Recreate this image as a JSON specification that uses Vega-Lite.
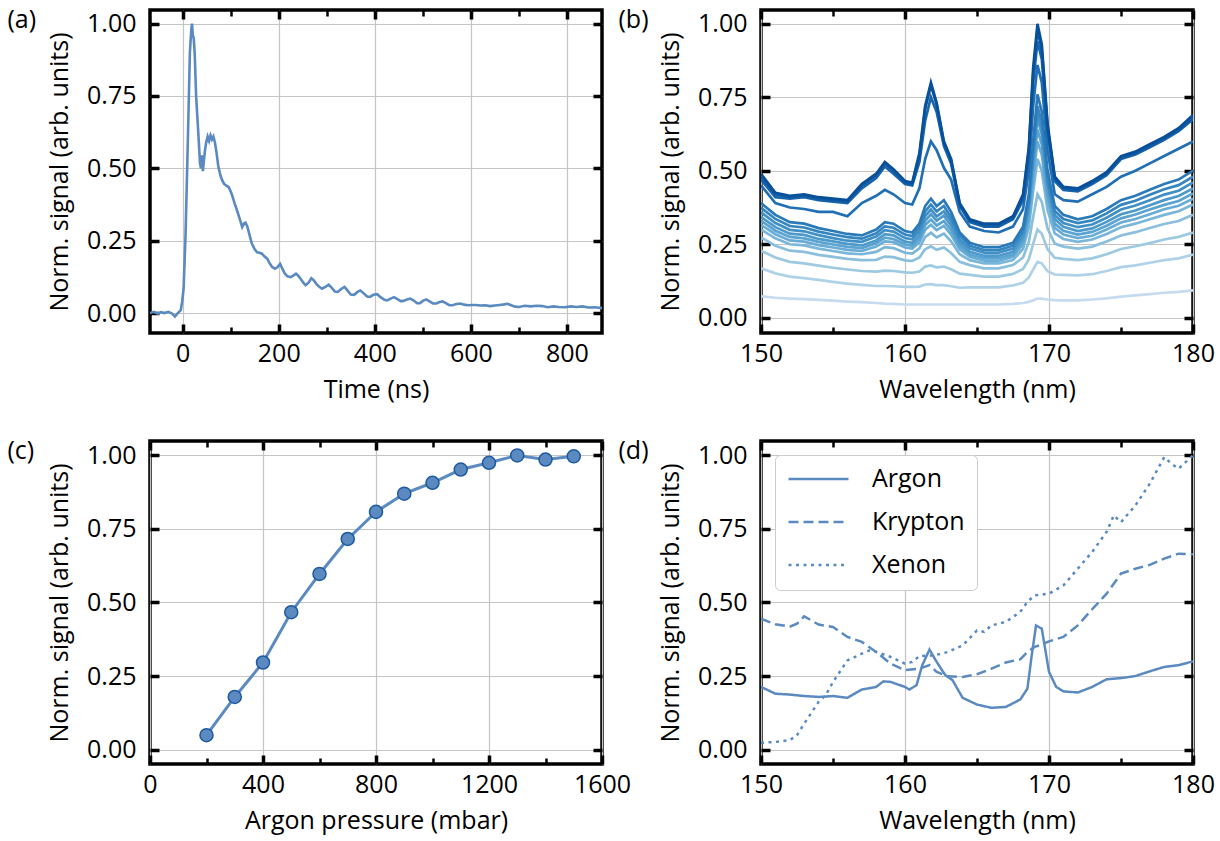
{
"$schema": "https://vega.github.io/schema/vega-lite/v6.json",
"background": "white",
"padding": {"left": 5, "top": 5, "right": 5, "bottom": 5},
"columns": 2,
"spacing": {"row": 108, "column": 159},
"bounds": "flush",
"resolve": {"scale": {"strokeDash": "independent", "color": "independent"}},
"concat": [
{
 "width": 452, "height": 323,
 "data": {"values": [
 {"t":-68,"v":0.0},{"t":-60,"v":0.004},{"t":-52,"v":-0.002},{"t":-45,"v":0.003},{"t":-38,"v":0.0},{"t":-30,"v":0.004},{"t":-22,"v":-0.002},{"t":-16,"v":-0.012},{"t":-12,"v":-0.004},{"t":-8,"v":0.003},{"t":-4,"v":0.01},{"t":-1,"v":0.04},{"t":2,"v":0.085},{"t":6,"v":0.27},{"t":11,"v":0.61},{"t":15,"v":0.9},{"t":18,"v":0.98},{"t":19.5,"v":1.0},{"t":21,"v":0.96},{"t":23,"v":0.95},{"t":25,"v":0.9},{"t":28,"v":0.75},{"t":33,"v":0.61},{"t":36,"v":0.52},{"t":38,"v":0.5},{"t":40,"v":0.545},{"t":42,"v":0.49},{"t":46,"v":0.556},{"t":49,"v":0.59},{"t":52,"v":0.61},{"t":55,"v":0.595},{"t":58,"v":0.614},{"t":61,"v":0.6},{"t":64,"v":0.61},{"t":67,"v":0.59},{"t":70,"v":0.56},{"t":74,"v":0.51},{"t":78.5,"v":0.476},{"t":82,"v":0.46},{"t":86,"v":0.447},{"t":91,"v":0.44},{"t":96,"v":0.435},{"t":100,"v":0.42},{"t":103,"v":0.407},{"t":108,"v":0.38},{"t":113,"v":0.355},{"t":118,"v":0.33},{"t":124,"v":0.297},{"t":128,"v":0.31},{"t":131,"v":0.312},{"t":135,"v":0.297},{"t":140,"v":0.265},{"t":144,"v":0.24},{"t":150,"v":0.22},{"t":155,"v":0.21},{"t":160,"v":0.208},{"t":165,"v":0.205},{"t":170,"v":0.196},{"t":176,"v":0.188},{"t":180,"v":0.175},{"t":186,"v":0.16},{"t":192,"v":0.153},{"t":197,"v":0.158},{"t":203,"v":0.17},{"t":207,"v":0.155},{"t":212,"v":0.138},{"t":218,"v":0.127},{"t":225,"v":0.124},{"t":231,"v":0.13},{"t":236,"v":0.136},{"t":241,"v":0.128},{"t":247,"v":0.115},{"t":252,"v":0.103},{"t":256,"v":0.096},{"t":262,"v":0.105},{"t":268,"v":0.12},{"t":273,"v":0.113},{"t":279,"v":0.099},{"t":285,"v":0.09},{"t":290,"v":0.084},{"t":297,"v":0.09},{"t":304,"v":0.098},{"t":310,"v":0.088},{"t":317,"v":0.074},{"t":323,"v":0.073},{"t":330,"v":0.083},{"t":337,"v":0.09},{"t":343,"v":0.078},{"t":350,"v":0.064},{"t":357,"v":0.063},{"t":364,"v":0.073},{"t":370,"v":0.078},{"t":377,"v":0.068},{"t":384,"v":0.057},{"t":390,"v":0.056},{"t":397,"v":0.063},{"t":405,"v":0.065},{"t":412,"v":0.055},{"t":420,"v":0.046},{"t":426,"v":0.044},{"t":433,"v":0.05},{"t":440,"v":0.055},{"t":447,"v":0.048},{"t":454,"v":0.041},{"t":460,"v":0.042},{"t":467,"v":0.047},{"t":474,"v":0.05},{"t":481,"v":0.043},{"t":488,"v":0.034},{"t":494,"v":0.034},{"t":500,"v":0.042},{"t":507,"v":0.047},{"t":514,"v":0.04},{"t":521,"v":0.033},{"t":528,"v":0.033},{"t":535,"v":0.038},{"t":541,"v":0.04},{"t":548,"v":0.034},{"t":555,"v":0.027},{"t":562,"v":0.027},{"t":570,"v":0.031},{"t":578,"v":0.033},{"t":586,"v":0.029},{"t":594,"v":0.027},{"t":602,"v":0.028},{"t":610,"v":0.028},{"t":620,"v":0.026},{"t":630,"v":0.027},{"t":640,"v":0.024},{"t":650,"v":0.026},{"t":660,"v":0.028},{"t":670,"v":0.03},{"t":676,"v":0.032},{"t":684,"v":0.027},{"t":692,"v":0.022},{"t":700,"v":0.021},{"t":712,"v":0.025},{"t":725,"v":0.023},{"t":737,"v":0.025},{"t":749,"v":0.024},{"t":760,"v":0.02},{"t":772,"v":0.023},{"t":783,"v":0.021},{"t":795,"v":0.02},{"t":808,"v":0.023},{"t":820,"v":0.021},{"t":832,"v":0.023},{"t":845,"v":0.019},{"t":858,"v":0.02},{"t":873,"v":0.017}
 ]},
 "resolve": {"axis": {"x": "independent", "y": "independent"}},
 "layer": [
  {"mark": {"type": "line", "color": "#5a8ac0", "strokeWidth": 2.6, "clip": true},
   "encoding": {
    "x": {"field": "t", "type": "quantitative", "scale": {"domain": [-68, 873], "nice": false, "zero": false},
      "axis": {"orient": "bottom", "values": [0,200,400,600,800], "tickSize": -9, "tickWidth": 3.5, "labelPadding": 17, "grid": true, "labelFlush": false, "labelOverlap": false, "title": "Time (ns)", "titlePadding": 11}},
    "y": {"field": "v", "type": "quantitative", "scale": {"domain": [-0.069, 1.047], "nice": false, "zero": false},
      "axis": {"orient": "left", "values": [0,0.25,0.5,0.75,1], "format": ".2f", "tickSize": -9, "tickWidth": 3.5, "labelPadding": 23, "grid": true, "labelOverlap": false, "title": "Norm. signal (arb. units)", "titlePadding": 14}}
   }},
  {"mark": {"type": "point", "opacity": 0},
   "encoding": {
    "x": {"field": "t", "type": "quantitative", "axis": {"orient": "top", "values": [0,200,400,600,800], "tickSize": -9, "tickWidth": 3.5, "labels": false, "grid": false, "title": "(a)", "titleX": -143, "titleY": -3, "titleAlign": "left", "titleBaseline": "top", "titleAngle": 0}},
    "y": {"field": "v", "type": "quantitative", "axis": {"orient": "right", "values": [0,0.25,0.5,0.75,1], "tickSize": -9, "tickWidth": 3.5, "labels": false, "grid": false, "title": null}}
   }},
  {"mark": {"type": "point", "opacity": 0},
   "encoding": {
    "x": {"field": "t", "type": "quantitative", "axis": {"orient": "bottom", "values": [100,300,500,700], "tickSize": -6, "tickWidth": 2.5, "labels": false, "grid": false, "title": null}},
    "y": {"field": "v", "type": "quantitative", "axis": null}
   }},
  {"mark": {"type": "point", "opacity": 0},
   "encoding": {
    "x": {"field": "t", "type": "quantitative", "axis": {"orient": "top", "values": [100,300,500,700], "tickSize": -6, "tickWidth": 2.5, "labels": false, "grid": false, "title": null}},
    "y": {"field": "v", "type": "quantitative", "axis": null}
   }}
 ]
},
{
 "width": 432, "height": 323,
 "data": {"values": [
 {"w":150,"d1":0.49,"d2":0.48,"d3":0.47,"d4":0.45,"l1":0.39,"l2":0.374,"l3":0.359,"l4":0.343,"l5":0.33,"l6":0.316,"l7":0.3,"l8":0.273,"l9":0.228,"l10":0.168,"l11":0.073},
 {"w":151,"d1":0.425,"d2":0.42,"d3":0.41,"d4":0.39,"l1":0.35,"l2":0.336,"l3":0.322,"l4":0.308,"l5":0.296,"l6":0.284,"l7":0.27,"l8":0.245,"l9":0.205,"l10":0.151,"l11":0.068},
 {"w":152,"d1":0.415,"d2":0.41,"d3":0.405,"d4":0.375,"l1":0.325,"l2":0.312,"l3":0.299,"l4":0.286,"l5":0.275,"l6":0.263,"l7":0.25,"l8":0.228,"l9":0.19,"l10":0.14,"l11":0.065},
 {"w":153,"d1":0.42,"d2":0.415,"d3":0.41,"d4":0.37,"l1":0.32,"l2":0.307,"l3":0.294,"l4":0.282,"l5":0.27,"l6":0.259,"l7":0.246,"l8":0.224,"l9":0.185,"l10":0.135,"l11":0.063},
 {"w":154,"d1":0.41,"d2":0.405,"d3":0.4,"d4":0.36,"l1":0.305,"l2":0.293,"l3":0.281,"l4":0.268,"l5":0.258,"l6":0.247,"l7":0.235,"l8":0.214,"l9":0.177,"l10":0.129,"l11":0.061},
 {"w":155,"d1":0.405,"d2":0.4,"d3":0.395,"d4":0.36,"l1":0.295,"l2":0.283,"l3":0.271,"l4":0.26,"l5":0.249,"l6":0.239,"l7":0.227,"l8":0.207,"l9":0.17,"l10":0.122,"l11":0.058},
 {"w":156,"d1":0.4,"d2":0.395,"d3":0.39,"d4":0.345,"l1":0.285,"l2":0.274,"l3":0.262,"l4":0.251,"l5":0.241,"l6":0.231,"l7":0.219,"l8":0.2,"l9":0.164,"l10":0.116,"l11":0.055},
 {"w":157,"d1":0.455,"d2":0.45,"d3":0.44,"d4":0.39,"l1":0.28,"l2":0.269,"l3":0.258,"l4":0.246,"l5":0.237,"l6":0.227,"l7":0.216,"l8":0.196,"l9":0.159,"l10":0.112,"l11":0.053},
 {"w":158,"d1":0.49,"d2":0.485,"d3":0.475,"d4":0.415,"l1":0.3,"l2":0.287,"l3":0.276,"l4":0.263,"l5":0.253,"l6":0.242,"l7":0.224,"l8":0.197,"l9":0.157,"l10":0.108,"l11":0.05},
 {"w":158.6,"d1":0.53,"d2":0.525,"d3":0.515,"d4":0.435,"l1":0.325,"l2":0.311,"l3":0.298,"l4":0.284,"l5":0.272,"l6":0.26,"l7":0.24,"l8":0.208,"l9":0.16,"l10":0.108,"l11":0.048},
 {"w":159.2,"d1":0.505,"d2":0.5,"d3":0.49,"d4":0.42,"l1":0.32,"l2":0.306,"l3":0.293,"l4":0.28,"l5":0.268,"l6":0.257,"l7":0.237,"l8":0.206,"l9":0.159,"l10":0.107,"l11":0.047},
 {"w":160,"d1":0.465,"d2":0.46,"d3":0.455,"d4":0.39,"l1":0.295,"l2":0.283,"l3":0.271,"l4":0.259,"l5":0.249,"l6":0.239,"l7":0.221,"l8":0.195,"l9":0.154,"l10":0.105,"l11":0.045},
 {"w":160.5,"d1":0.46,"d2":0.455,"d3":0.45,"d4":0.385,"l1":0.29,"l2":0.278,"l3":0.267,"l4":0.255,"l5":0.245,"l6":0.235,"l7":0.218,"l8":0.193,"l9":0.153,"l10":0.105,"l11":0.045},
 {"w":161,"d1":0.56,"d2":0.55,"d3":0.53,"d4":0.44,"l1":0.32,"l2":0.307,"l3":0.293,"l4":0.28,"l5":0.268,"l6":0.256,"l7":0.236,"l8":0.205,"l9":0.157,"l10":0.106,"l11":0.045},
 {"w":161.4,"d1":0.72,"d2":0.71,"d3":0.67,"d4":0.54,"l1":0.38,"l2":0.362,"l3":0.346,"l4":0.33,"l5":0.315,"l6":0.299,"l7":0.275,"l8":0.233,"l9":0.174,"l10":0.113,"l11":0.045},
 {"w":161.8,"d1":0.8,"d2":0.79,"d3":0.75,"d4":0.6,"l1":0.405,"l2":0.385,"l3":0.368,"l4":0.352,"l5":0.334,"l6":0.316,"l7":0.289,"l8":0.243,"l9":0.178,"l10":0.114,"l11":0.045},
 {"w":162.2,"d1":0.73,"d2":0.725,"d3":0.7,"d4":0.57,"l1":0.38,"l2":0.362,"l3":0.345,"l4":0.33,"l5":0.314,"l6":0.298,"l7":0.273,"l8":0.231,"l9":0.171,"l10":0.111,"l11":0.045},
 {"w":162.7,"d1":0.6,"d2":0.595,"d3":0.585,"d4":0.51,"l1":0.4,"l2":0.38,"l3":0.362,"l4":0.347,"l5":0.329,"l6":0.313,"l7":0.286,"l8":0.239,"l9":0.174,"l10":0.111,"l11":0.045},
 {"w":163.2,"d1":0.54,"d2":0.535,"d3":0.525,"d4":0.47,"l1":0.36,"l2":0.342,"l3":0.328,"l4":0.313,"l5":0.298,"l6":0.283,"l7":0.26,"l8":0.22,"l9":0.165,"l10":0.107,"l11":0.045},
 {"w":163.8,"d1":0.39,"d2":0.385,"d3":0.38,"d4":0.36,"l1":0.29,"l2":0.278,"l3":0.265,"l4":0.254,"l5":0.243,"l6":0.233,"l7":0.216,"l8":0.19,"l9":0.15,"l10":0.102,"l11":0.045},
 {"w":164.5,"d1":0.335,"d2":0.33,"d3":0.325,"d4":0.31,"l1":0.255,"l2":0.245,"l3":0.235,"l4":0.224,"l5":0.215,"l6":0.207,"l7":0.196,"l8":0.179,"l9":0.146,"l10":0.103,"l11":0.045},
 {"w":165.5,"d1":0.32,"d2":0.315,"d3":0.31,"d4":0.295,"l1":0.24,"l2":0.23,"l3":0.221,"l4":0.211,"l5":0.203,"l6":0.194,"l7":0.185,"l8":0.168,"l9":0.14,"l10":0.103,"l11":0.045},
 {"w":166.5,"d1":0.32,"d2":0.315,"d3":0.31,"d4":0.29,"l1":0.24,"l2":0.23,"l3":0.221,"l4":0.211,"l5":0.203,"l6":0.194,"l7":0.185,"l8":0.168,"l9":0.14,"l10":0.103,"l11":0.045},
 {"w":167.5,"d1":0.345,"d2":0.34,"d3":0.335,"d4":0.31,"l1":0.255,"l2":0.245,"l3":0.235,"l4":0.224,"l5":0.215,"l6":0.207,"l7":0.196,"l8":0.179,"l9":0.149,"l10":0.11,"l11":0.047},
 {"w":168.2,"d1":0.42,"d2":0.41,"d3":0.4,"d4":0.37,"l1":0.31,"l2":0.297,"l3":0.285,"l4":0.274,"l5":0.262,"l6":0.25,"l7":0.234,"l8":0.205,"l9":0.166,"l10":0.119,"l11":0.05},
 {"w":168.6,"d1":0.58,"d2":0.57,"d3":0.55,"d4":0.5,"l1":0.42,"l2":0.4,"l3":0.387,"l4":0.373,"l5":0.354,"l6":0.335,"l7":0.309,"l8":0.258,"l9":0.199,"l10":0.137,"l11":0.054},
 {"w":168.9,"d1":0.85,"d2":0.83,"d3":0.8,"d4":0.72,"l1":0.6,"l2":0.569,"l3":0.552,"l4":0.535,"l5":0.505,"l6":0.475,"l7":0.431,"l8":0.343,"l9":0.251,"l10":0.164,"l11":0.059},
 {"w":169.2,"d1":1.0,"d2":0.98,"d3":0.94,"d4":0.86,"l1":0.76,"l2":0.72,"l3":0.7,"l4":0.678,"l5":0.64,"l6":0.6,"l7":0.54,"l8":0.42,"l9":0.3,"l10":0.19,"l11":0.065},
 {"w":169.5,"d1":0.93,"d2":0.91,"d3":0.88,"d4":0.8,"l1":0.7,"l2":0.663,"l3":0.644,"l4":0.624,"l5":0.589,"l6":0.554,"l7":0.5,"l8":0.394,"l9":0.286,"l10":0.185,"l11":0.065},
 {"w":169.9,"d1":0.66,"d2":0.65,"d3":0.63,"d4":0.57,"l1":0.5,"l2":0.476,"l3":0.46,"l4":0.444,"l5":0.422,"l6":0.398,"l7":0.366,"l8":0.303,"l9":0.233,"l10":0.158,"l11":0.062},
 {"w":170.4,"d1":0.48,"d2":0.475,"d3":0.465,"d4":0.42,"l1":0.38,"l2":0.363,"l3":0.349,"l4":0.336,"l5":0.32,"l6":0.306,"l7":0.287,"l8":0.252,"l9":0.204,"l10":0.147,"l11":0.06},
 {"w":171,"d1":0.445,"d2":0.44,"d3":0.435,"d4":0.4,"l1":0.35,"l2":0.336,"l3":0.322,"l4":0.309,"l5":0.296,"l6":0.283,"l7":0.268,"l8":0.242,"l9":0.2,"l10":0.146,"l11":0.059},
 {"w":172,"d1":0.44,"d2":0.435,"d3":0.43,"d4":0.395,"l1":0.335,"l2":0.322,"l3":0.308,"l4":0.295,"l5":0.283,"l6":0.271,"l7":0.258,"l8":0.235,"l9":0.196,"l10":0.144,"l11":0.059},
 {"w":173,"d1":0.465,"d2":0.46,"d3":0.455,"d4":0.42,"l1":0.345,"l2":0.331,"l3":0.317,"l4":0.304,"l5":0.292,"l6":0.279,"l7":0.266,"l8":0.242,"l9":0.202,"l10":0.148,"l11":0.062},
 {"w":174,"d1":0.495,"d2":0.49,"d3":0.485,"d4":0.445,"l1":0.37,"l2":0.355,"l3":0.34,"l4":0.326,"l5":0.313,"l6":0.3,"l7":0.285,"l8":0.259,"l9":0.216,"l10":0.159,"l11":0.066},
 {"w":175,"d1":0.55,"d2":0.545,"d3":0.54,"d4":0.48,"l1":0.4,"l2":0.384,"l3":0.368,"l4":0.352,"l5":0.338,"l6":0.324,"l7":0.308,"l8":0.28,"l9":0.234,"l10":0.172,"l11":0.072},
 {"w":176,"d1":0.565,"d2":0.56,"d3":0.555,"d4":0.5,"l1":0.415,"l2":0.398,"l3":0.382,"l4":0.365,"l5":0.351,"l6":0.336,"l7":0.32,"l8":0.291,"l9":0.243,"l10":0.178,"l11":0.076},
 {"w":177,"d1":0.59,"d2":0.585,"d3":0.58,"d4":0.525,"l1":0.435,"l2":0.418,"l3":0.4,"l4":0.383,"l5":0.368,"l6":0.352,"l7":0.335,"l8":0.305,"l9":0.254,"l10":0.187,"l11":0.08},
 {"w":178,"d1":0.615,"d2":0.61,"d3":0.605,"d4":0.55,"l1":0.455,"l2":0.437,"l3":0.419,"l4":0.4,"l5":0.384,"l6":0.369,"l7":0.35,"l8":0.319,"l9":0.266,"l10":0.196,"l11":0.085},
 {"w":179,"d1":0.645,"d2":0.64,"d3":0.635,"d4":0.575,"l1":0.47,"l2":0.451,"l3":0.432,"l4":0.414,"l5":0.397,"l6":0.381,"l7":0.362,"l8":0.329,"l9":0.275,"l10":0.202,"l11":0.088},
 {"w":180,"d1":0.69,"d2":0.68,"d3":0.675,"d4":0.6,"l1":0.5,"l2":0.48,"l3":0.46,"l4":0.44,"l5":0.423,"l6":0.405,"l7":0.385,"l8":0.35,"l9":0.29,"l10":0.215,"l11":0.093}
 ]},
 "transform": [{"fold": ["l11","l10","l9","l8","l7","l6","l5","l4","l3","l2","l1","d4","d3","d2","d1"], "as": ["s", "v"]}],
 "resolve": {"axis": {"x": "independent", "y": "independent"}},
 "layer": [
  {"mark": {"type": "line", "strokeWidth": 2.7, "clip": true},
   "encoding": {
    "x": {"field": "w", "type": "quantitative", "scale": {"domain": [150, 180], "nice": false, "zero": false},
      "axis": {"orient": "bottom", "values": [150,160,170,180], "tickSize": -9, "tickWidth": 3.5, "labelPadding": 17, "grid": true, "labelFlush": false, "labelOverlap": false, "title": "Wavelength (nm)", "titlePadding": 11}},
    "y": {"field": "v", "type": "quantitative", "scale": {"domain": [-0.052, 1.047], "nice": false, "zero": false},
      "axis": {"orient": "left", "values": [0,0.25,0.5,0.75,1], "format": ".2f", "tickSize": -9, "tickWidth": 3.5, "labelPadding": 23, "grid": true, "labelOverlap": false, "title": "Norm. signal (arb. units)", "titlePadding": 14}},
    "color": {"field": "s", "type": "nominal", "legend": null,
      "scale": {"domain": ["l11","l10","l9","l8","l7","l6","l5","l4","l3","l2","l1","d4","d3","d2","d1"],
                "range": ["#c6dbef","#b0d2e8","#9ecae1","#8abfdd","#79b6d9","#69acd5","#5ba3d0","#4d9aca","#4090c5","#3585bf","#2a7aba","#206fb4","#1865ac","#0f5aa3","#08509a"]}}
   }},
  {"mark": {"type": "point", "opacity": 0},
   "encoding": {
    "x": {"field": "w", "type": "quantitative", "axis": {"orient": "top", "values": [150,160,170,180], "tickSize": -9, "tickWidth": 3.5, "labels": false, "grid": false, "title": "(b)", "titleX": -143, "titleY": -3, "titleAlign": "left", "titleBaseline": "top", "titleAngle": 0}},
    "y": {"field": "v", "type": "quantitative", "axis": {"orient": "right", "values": [0,0.25,0.5,0.75,1], "tickSize": -9, "tickWidth": 3.5, "labels": false, "grid": false, "title": null}}
   }},
  {"mark": {"type": "point", "opacity": 0},
   "encoding": {
    "x": {"field": "w", "type": "quantitative", "axis": {"orient": "bottom", "values": [155,165,175], "tickSize": -6, "tickWidth": 2.5, "labels": false, "grid": false, "title": null}},
    "y": {"field": "v", "type": "quantitative", "axis": null}
   }},
  {"mark": {"type": "point", "opacity": 0},
   "encoding": {
    "x": {"field": "w", "type": "quantitative", "axis": {"orient": "top", "values": [155,165,175], "tickSize": -6, "tickWidth": 2.5, "labels": false, "grid": false, "title": null}},
    "y": {"field": "v", "type": "quantitative", "axis": null}
   }}
 ]
},
{
 "width": 452, "height": 323,
 "data": {"values": [
 {"p":200,"v":0.049},{"p":300,"v":0.179},{"p":400,"v":0.296},{"p":500,"v":0.467},{"p":600,"v":0.597},{"p":700,"v":0.716},{"p":800,"v":0.808},{"p":900,"v":0.87},{"p":1000,"v":0.907},{"p":1100,"v":0.952},{"p":1200,"v":0.975},{"p":1300,"v":1.0},{"p":1400,"v":0.986},{"p":1500,"v":0.997}
 ]},
 "resolve": {"axis": {"x": "independent", "y": "independent"}},
 "layer": [
  {"mark": {"type": "line", "color": "#5a8ac0", "strokeWidth": 3},
   "encoding": {
    "x": {"field": "p", "type": "quantitative", "scale": {"domain": [0, 1600], "nice": false, "zero": false},
      "axis": {"orient": "bottom", "values": [0,400,800,1200,1600], "format": "d", "tickSize": -9, "tickWidth": 3.5, "labelPadding": 17, "grid": true, "labelFlush": false, "labelOverlap": false, "title": "Argon pressure (mbar)", "titlePadding": 11}},
    "y": {"field": "v", "type": "quantitative", "scale": {"domain": [-0.049, 1.049], "nice": false, "zero": false},
      "axis": {"orient": "left", "values": [0,0.25,0.5,0.75,1], "format": ".2f", "tickSize": -9, "tickWidth": 3.5, "labelPadding": 23, "grid": true, "labelOverlap": false, "title": "Norm. signal (arb. units)", "titlePadding": 14}}
   }},
  {"mark": {"type": "point", "filled": true, "fill": "#5a8ac0", "stroke": "#1f5aa0", "strokeWidth": 1.5, "opacity": 1, "size": 170},
   "encoding": {
    "x": {"field": "p", "type": "quantitative", "axis": {"orient": "top", "values": [0,400,800,1200,1600], "tickSize": -9, "tickWidth": 3.5, "labels": false, "grid": false, "title": "(c)", "titleX": -143, "titleY": -3, "titleAlign": "left", "titleBaseline": "top", "titleAngle": 0}},
    "y": {"field": "v", "type": "quantitative", "axis": {"orient": "right", "values": [0,0.25,0.5,0.75,1], "tickSize": -9, "tickWidth": 3.5, "labels": false, "grid": false, "title": null}}
   }},
  {"mark": {"type": "point", "opacity": 0},
   "encoding": {
    "x": {"field": "p", "type": "quantitative", "axis": {"orient": "bottom", "values": [200,600,1000,1400], "tickSize": -6, "tickWidth": 2.5, "labels": false, "grid": false, "title": null}},
    "y": {"field": "v", "type": "quantitative", "axis": null}
   }},
  {"mark": {"type": "point", "opacity": 0},
   "encoding": {
    "x": {"field": "p", "type": "quantitative", "axis": {"orient": "top", "values": [200,600,1000,1400], "tickSize": -6, "tickWidth": 2.5, "labels": false, "grid": false, "title": null}},
    "y": {"field": "v", "type": "quantitative", "axis": null}
   }}
 ]
},
{
 "width": 432, "height": 323,
 "data": {"values": [
 {"w":150,"g":"Argon","v":0.213},{"w":151,"g":"Argon","v":0.19},{"w":152,"g":"Argon","v":0.187},{"w":153,"g":"Argon","v":0.182},{"w":154,"g":"Argon","v":0.179},{"w":155,"g":"Argon","v":0.182},{"w":155.5,"g":"Argon","v":0.179},{"w":156,"g":"Argon","v":0.176},{"w":157,"g":"Argon","v":0.204},{"w":158,"g":"Argon","v":0.213},{"w":158.5,"g":"Argon","v":0.232},{"w":159,"g":"Argon","v":0.23},{"w":160,"g":"Argon","v":0.213},{"w":160.3,"g":"Argon","v":0.204},{"w":160.8,"g":"Argon","v":0.219},{"w":161.2,"g":"Argon","v":0.287},{"w":161.7,"g":"Argon","v":0.34},{"w":162.2,"g":"Argon","v":0.298},{"w":162.8,"g":"Argon","v":0.253},{"w":163.3,"g":"Argon","v":0.236},{"w":164,"g":"Argon","v":0.176},{"w":165,"g":"Argon","v":0.153},{"w":166,"g":"Argon","v":0.142},{"w":167,"g":"Argon","v":0.145},{"w":168,"g":"Argon","v":0.17},{"w":168.5,"g":"Argon","v":0.207},{"w":168.8,"g":"Argon","v":0.32},{"w":169.1,"g":"Argon","v":0.422},{"w":169.5,"g":"Argon","v":0.411},{"w":170,"g":"Argon","v":0.264},{"w":170.5,"g":"Argon","v":0.213},{"w":171,"g":"Argon","v":0.198},{"w":172,"g":"Argon","v":0.194},{"w":173,"g":"Argon","v":0.213},{"w":174,"g":"Argon","v":0.239},{"w":175,"g":"Argon","v":0.243},{"w":176,"g":"Argon","v":0.25},{"w":177,"g":"Argon","v":0.266},{"w":178,"g":"Argon","v":0.281},{"w":179,"g":"Argon","v":0.287},{"w":180,"g":"Argon","v":0.3},
 {"w":150,"g":"Krypton","v":0.445},{"w":151,"g":"Krypton","v":0.426},{"w":152,"g":"Krypton","v":0.418},{"w":152.5,"g":"Krypton","v":0.428},{"w":153,"g":"Krypton","v":0.453},{"w":154,"g":"Krypton","v":0.425},{"w":155,"g":"Krypton","v":0.417},{"w":156,"g":"Krypton","v":0.383},{"w":157,"g":"Krypton","v":0.366},{"w":158,"g":"Krypton","v":0.332},{"w":159,"g":"Krypton","v":0.292},{"w":160,"g":"Krypton","v":0.27},{"w":161,"g":"Krypton","v":0.275},{"w":161.7,"g":"Krypton","v":0.287},{"w":162.2,"g":"Krypton","v":0.264},{"w":163,"g":"Krypton","v":0.249},{"w":164,"g":"Krypton","v":0.247},{"w":165,"g":"Krypton","v":0.256},{"w":166,"g":"Krypton","v":0.275},{"w":167,"g":"Krypton","v":0.296},{"w":168,"g":"Krypton","v":0.307},{"w":168.5,"g":"Krypton","v":0.332},{"w":169,"g":"Krypton","v":0.349},{"w":169.5,"g":"Krypton","v":0.357},{"w":170,"g":"Krypton","v":0.368},{"w":171,"g":"Krypton","v":0.383},{"w":172,"g":"Krypton","v":0.422},{"w":173,"g":"Krypton","v":0.477},{"w":174,"g":"Krypton","v":0.53},{"w":175,"g":"Krypton","v":0.598},{"w":176,"g":"Krypton","v":0.615},{"w":177,"g":"Krypton","v":0.628},{"w":178,"g":"Krypton","v":0.649},{"w":179,"g":"Krypton","v":0.666},{"w":180,"g":"Krypton","v":0.664},
 {"w":150,"g":"Xenon","v":0.023},{"w":151,"g":"Xenon","v":0.026},{"w":152,"g":"Xenon","v":0.032},{"w":152.5,"g":"Xenon","v":0.049},{"w":153,"g":"Xenon","v":0.088},{"w":154,"g":"Xenon","v":0.162},{"w":154.5,"g":"Xenon","v":0.185},{"w":155,"g":"Xenon","v":0.23},{"w":156,"g":"Xenon","v":0.303},{"w":157,"g":"Xenon","v":0.326},{"w":157.5,"g":"Xenon","v":0.337},{"w":158,"g":"Xenon","v":0.332},{"w":159,"g":"Xenon","v":0.315},{"w":160,"g":"Xenon","v":0.292},{"w":160.5,"g":"Xenon","v":0.298},{"w":161,"g":"Xenon","v":0.318},{"w":162,"g":"Xenon","v":0.32},{"w":163,"g":"Xenon","v":0.332},{"w":164,"g":"Xenon","v":0.354},{"w":165,"g":"Xenon","v":0.405},{"w":165.5,"g":"Xenon","v":0.4},{"w":166,"g":"Xenon","v":0.422},{"w":167,"g":"Xenon","v":0.434},{"w":168,"g":"Xenon","v":0.468},{"w":168.5,"g":"Xenon","v":0.502},{"w":169,"g":"Xenon","v":0.524},{"w":170,"g":"Xenon","v":0.53},{"w":171,"g":"Xenon","v":0.558},{"w":172,"g":"Xenon","v":0.615},{"w":173,"g":"Xenon","v":0.672},{"w":174,"g":"Xenon","v":0.74},{"w":174.5,"g":"Xenon","v":0.796},{"w":175,"g":"Xenon","v":0.773},{"w":176,"g":"Xenon","v":0.83},{"w":177,"g":"Xenon","v":0.904},{"w":178,"g":"Xenon","v":0.994},{"w":178.5,"g":"Xenon","v":0.972},{"w":179,"g":"Xenon","v":0.955},{"w":180,"g":"Xenon","v":1.0}
 ]},
 "resolve": {"axis": {"x": "independent", "y": "independent"}},
 "layer": [
  {"mark": {"type": "line", "color": "#5a8ac0", "strokeWidth": 2.5, "clip": true},
   "encoding": {
    "x": {"field": "w", "type": "quantitative", "scale": {"domain": [150, 180], "nice": false, "zero": false},
      "axis": {"orient": "bottom", "values": [150,160,170,180], "tickSize": -9, "tickWidth": 3.5, "labelPadding": 17, "grid": true, "labelFlush": false, "labelOverlap": false, "title": "Wavelength (nm)", "titlePadding": 11}},
    "y": {"field": "v", "type": "quantitative", "scale": {"domain": [-0.049, 1.049], "nice": false, "zero": false},
      "axis": {"orient": "left", "values": [0,0.25,0.5,0.75,1], "format": ".2f", "tickSize": -9, "tickWidth": 3.5, "labelPadding": 23, "grid": true, "labelOverlap": false, "title": "Norm. signal (arb. units)", "titlePadding": 14}},
    "strokeDash": {"field": "g", "type": "nominal",
      "scale": {"domain": ["Argon","Krypton","Xenon"], "range": [[1,0],[10,5],[3,4.5]]},
      "legend": {"orient": "top-left", "offset": 14, "title": null, "symbolType": "stroke", "symbolSize": 3600, "symbolStrokeWidth": 2.5, "symbolStrokeColor": "#5a8ac0", "clipHeight": 24, "labelFont": "Open Sans", "labelFontSize": 25, "labelColor": "black", "labelOffset": 22, "rowPadding": 18, "padding": 12, "fillColor": "white", "strokeColor": "#cccccc", "cornerRadius": 5, "labelLimit": 300}}
   }},
  {"mark": {"type": "point", "opacity": 0},
   "encoding": {
    "x": {"field": "w", "type": "quantitative", "axis": {"orient": "top", "values": [150,160,170,180], "tickSize": -9, "tickWidth": 3.5, "labels": false, "grid": false, "title": "(d)", "titleX": -143, "titleY": -3, "titleAlign": "left", "titleBaseline": "top", "titleAngle": 0}},
    "y": {"field": "v", "type": "quantitative", "axis": {"orient": "right", "values": [0,0.25,0.5,0.75,1], "tickSize": -9, "tickWidth": 3.5, "labels": false, "grid": false, "title": null}}
   }},
  {"mark": {"type": "point", "opacity": 0},
   "encoding": {
    "x": {"field": "w", "type": "quantitative", "axis": {"orient": "bottom", "values": [155,165,175], "tickSize": -6, "tickWidth": 2.5, "labels": false, "grid": false, "title": null}},
    "y": {"field": "v", "type": "quantitative", "axis": null}
   }},
  {"mark": {"type": "point", "opacity": 0},
   "encoding": {
    "x": {"field": "w", "type": "quantitative", "axis": {"orient": "top", "values": [155,165,175], "tickSize": -6, "tickWidth": 2.5, "labels": false, "grid": false, "title": null}},
    "y": {"field": "v", "type": "quantitative", "axis": null}
   }}
 ]
}
],
"config": {
 "font": "Open Sans",
 "view": {"stroke": "black", "strokeWidth": 3.5},
 "axis": {"labelFont": "Open Sans", "labelFontSize": 25, "labelColor": "black", "titleFont": "Open Sans", "titleFontSize": 25, "titleFontWeight": "normal", "titleColor": "black", "domain": false, "tickColor": "black", "gridColor": "#c4c4c4", "gridWidth": 1.2, "gridOpacity": 1}
}
}
